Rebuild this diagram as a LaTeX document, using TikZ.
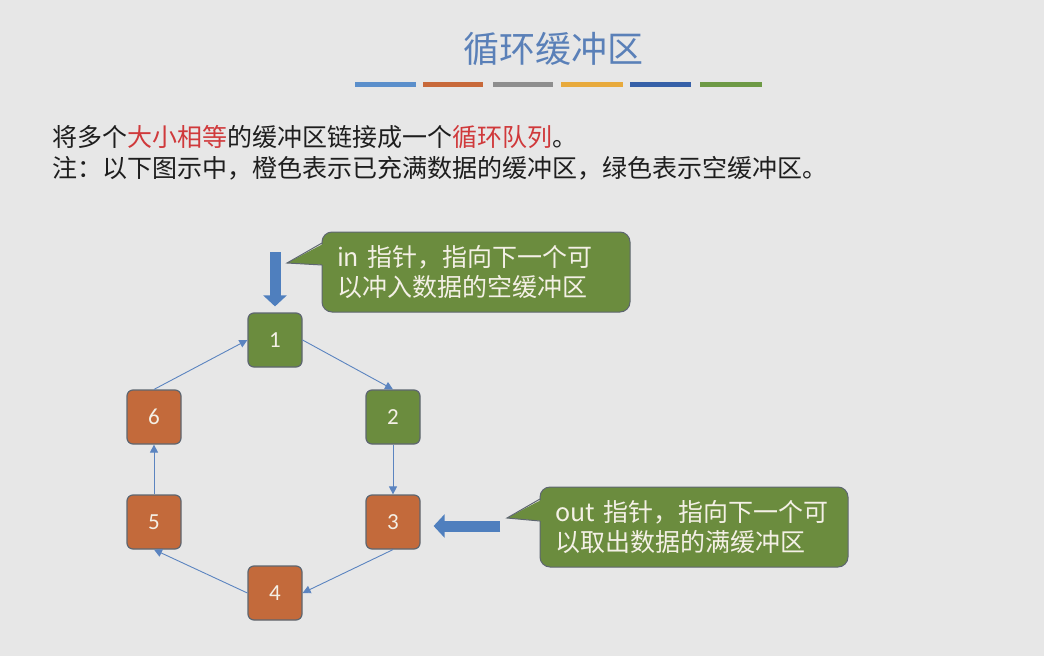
\documentclass[tikz,border=0pt]{standalone}
\usepackage{fontspec}
\setmainfont{Carlito}
\newfontfamily\cjk{Noto Sans CJK SC}
\usetikzlibrary{arrows.meta}
\definecolor{bg}{HTML}{E7E7E7}
\definecolor{cgreen}{HTML}{6B8C3E}
\definecolor{corange}{HTML}{C36A3B}
\definecolor{clight}{HTML}{F4F0E6}
\definecolor{ctitle}{HTML}{5A80B8}
\definecolor{carrow}{HTML}{4F7FBE}
\definecolor{cedge}{HTML}{5B84C0}
\definecolor{cbody}{HTML}{1E1E1E}
\definecolor{cred}{HTML}{D0393B}
\definecolor{cborder}{HTML}{5E6670}
\definecolor{barA}{HTML}{5B8FCB}
\definecolor{barB}{HTML}{C8693A}
\definecolor{barC}{HTML}{8E8E8E}
\definecolor{barD}{HTML}{E8AA3C}
\definecolor{barE}{HTML}{3660A8}
\definecolor{barF}{HTML}{6E9A45}
\begin{document}
\begin{tikzpicture}[x=1pt,y=-1pt,
  buf/.style={draw=cborder,line width=1.2pt,rounded corners=6pt,minimum width=54pt,minimum height=54pt,inner sep=0pt,text=clight,font=\fontsize{23}{26}\selectfont},
  fullbuf/.style={buf,fill=corange},
  emptybuf/.style={buf,fill=cgreen},
  link/.style={draw=cedge,line width=0.9pt,-{Triangle[length=8pt,width=8pt]}},
  bigarrow/.style={draw=carrow,line width=11pt,-{Triangle[length=11pt,width=23pt]}},
  callout/.style={fill=cgreen,draw=cborder,line width=1pt,rounded corners=10pt,minimum width=308pt,minimum height=80pt,text width=278pt,inner xsep=15pt,align=left,text=clight,font=\cjk\fontsize{25}{30}\selectfont},
  bar/.style={line width=5pt},
  bodytext/.style={anchor=west,inner sep=0pt,text=cbody,font=\cjk\fontsize{25}{30}\selectfont}
]
\fill[bg] (0,0) rectangle (1044,656);
\useasboundingbox (0,0) rectangle (1044,656);

% title
\node[text=ctitle,font=\cjk\fontsize{36}{40}\selectfont] (title) at (553,49) {循环缓冲区};
\draw[bar,barA] (355,84) -- (416,84);
\draw[bar,barB] (423,84) -- (483,84);
\draw[bar,barC] (493,84) -- (553,84);
\draw[bar,barD] (561,84) -- (623,84);
\draw[bar,barE] (630,84) -- (691,84);
\draw[bar,barF] (700,84) -- (762,84);

% body text
\node[bodytext] (line1) at (52,137) {将多个\textcolor{cred}{大小相等}的缓冲区链接成一个\textcolor{cred}{循环队列}。};
\node[bodytext] (line2) at (52,168) {注：以下图示中，橙色表示已充满数据的缓冲区，绿色表示空缓冲区。};

% buffers
\node[emptybuf] (n1) at (275,340) {1};
\node[emptybuf] (n2) at (393,417) {2};
\node[fullbuf]  (n3) at (393,522) {3};
\node[fullbuf]  (n4) at (275,593) {4};
\node[fullbuf]  (n5) at (154,522) {5};
\node[fullbuf]  (n6) at (154,417) {6};

\draw[link] (n1.east) -- (n2.north);
\draw[link] (n2.south) -- (n3.north);
\draw[link] (n3.south) -- (n4.east);
\draw[link] (n4.west) -- (n5.south);
\draw[link] (n5.north) -- (n6.south);
\draw[link] (n6.north) -- (n1.west);

% in callout
\node[callout] (incall) at (476,272) {in 指针，指向下一个可\\以冲入数据的空缓冲区};
\coordinate (intip) at (287,263);
\fill[cgreen] (325,243) -- (intip) -- (325,265) -- cycle;
\draw[cborder,line width=1pt] (322,243) -- (intip) -- (322,265);

% out callout
\node[callout] (outcall) at (694,527) {out 指针，指向下一个可\\以取出数据的满缓冲区};
\coordinate (outtip) at (507,518);
\fill[cgreen] (543,499) -- (outtip) -- (543,521) -- cycle;
\draw[cborder,line width=1pt] (540,499) -- (outtip) -- (540,521);

% pointer arrows
\coordinate (inS) at (275,252);
\draw[bigarrow,shorten >=6pt] (inS) -- (n1.north);
\coordinate (outS) at (500,526);
\draw[bigarrow,shorten >=13pt] (outS) -- (outS -| n3.east);
\end{tikzpicture}
\end{document}
